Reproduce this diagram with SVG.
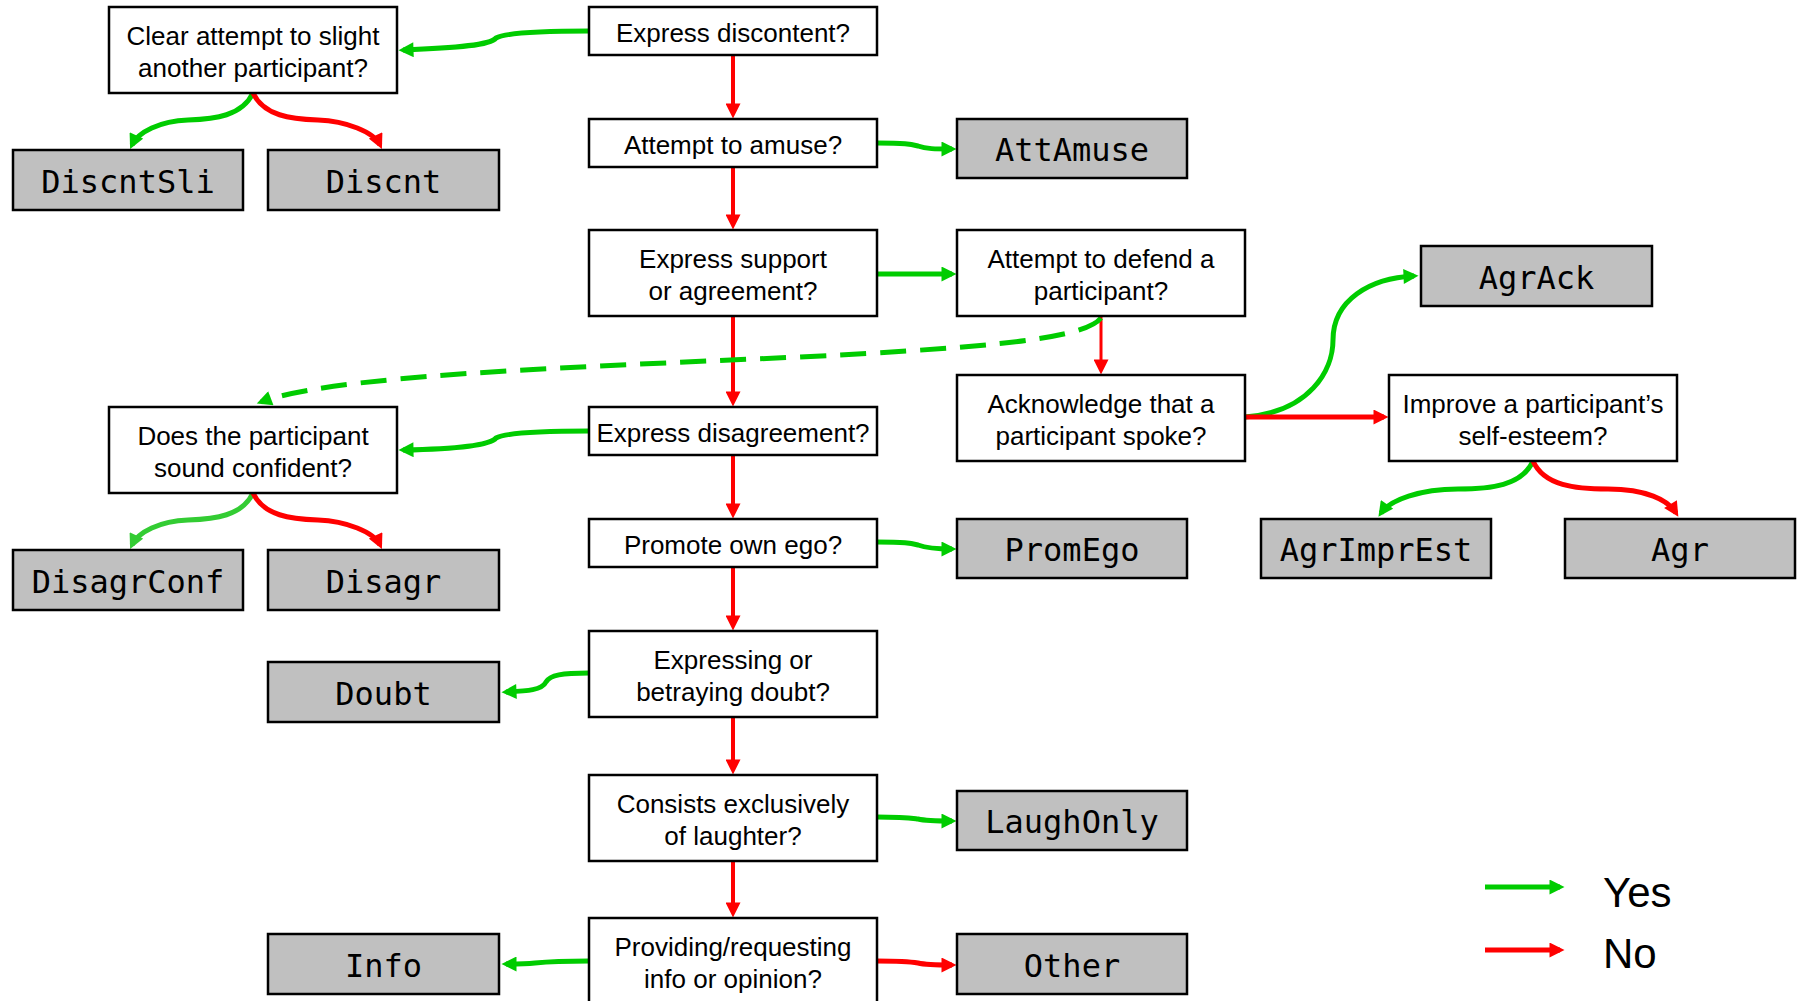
<svg xmlns="http://www.w3.org/2000/svg" width="1797" height="1001" viewBox="0 0 1797 1001">
<style>
.q{fill:#fff;stroke:#000;stroke-width:2.5}
.t{fill:#c0c0c0;stroke:#000;stroke-width:2.5}
.qt{font-family:"Liberation Sans",Arial,sans-serif;font-size:26px;fill:#000;text-anchor:middle}
.tt{font-family:"DejaVu Sans Mono","Liberation Mono",monospace;font-size:32px;fill:#000;text-anchor:middle}
.lg{font-family:"Liberation Sans",Arial,sans-serif;font-size:42px;fill:#000}
.y{fill:none;stroke:#00cc00;stroke-width:5;marker-end:url(#mg)}
.yl{fill:none;stroke:#33cc33;stroke-width:5;marker-end:url(#ml)}
.n{fill:none;stroke:#ff0000;stroke-width:4;marker-end:url(#mr)}
.nt{fill:none;stroke:#ff0000;stroke-width:5;marker-end:url(#mr)}
.d{stroke-dasharray:26 14}
</style>
<defs>
<marker id="mg" viewBox="0 0 10 10" refX="7" refY="5" markerWidth="16" markerHeight="15" markerUnits="userSpaceOnUse" orient="auto"><path d="M0,0 L10,5 L0,10 z" fill="#00cc00"/></marker>
<marker id="ml" viewBox="0 0 10 10" refX="7" refY="5" markerWidth="16" markerHeight="15" markerUnits="userSpaceOnUse" orient="auto"><path d="M0,0 L10,5 L0,10 z" fill="#33cc33"/></marker>
<marker id="mr" viewBox="0 0 10 10" refX="7" refY="5" markerWidth="16" markerHeight="15" markerUnits="userSpaceOnUse" orient="auto"><path d="M0,0 L10,5 L0,10 z" fill="#ff0000"/></marker>
</defs>
<rect width="1797" height="1001" fill="#fff"/>

<g id="connectors">
<path class="y" d="M589,31 C540,31 505,33 496,38 C490,45 460,48 403,50"/>
<path class="n" d="M733,55 V114"/>
<path class="y" d="M877,143 C905,143 910,144 918,146 C926,149 935,149 952,149"/>
<path class="n" d="M733,167 V225"/>
<path class="y" d="M877,274 H952"/>
<path class="n" d="M733,316 V402"/>
<path class="n" style="stroke-width:3" d="M1101,316 V370"/>
<path class="y d" d="M1101,318 C1085,338 1000,347 800,357 C550,368 330,376 261,402"/>
<path class="y" d="M1245,417 C1310,412 1333,370 1333,340 C1333,300 1370,278 1414,276"/>
<path class="nt" d="M1245,417 H1384"/>
<path class="y" d="M1533,461 C1522,486 1490,489 1458,489 C1420,489 1390,500 1381,513"/>
<path class="nt" d="M1533,461 C1544,486 1576,489 1608,489 C1646,489 1668,500 1676,513"/>
<path class="y" d="M253,93 C242,116 215,119 188,120 C160,121 138,132 132,145"/>
<path class="nt" d="M253,93 C264,116 291,119 318,120 C346,121 374,132 380,145"/>
<path class="y" d="M589,431 C540,431 505,433 496,438 C490,445 460,449 403,450"/>
<path class="n" d="M733,455 V514"/>
<path class="yl" d="M253,493 C242,516 215,519 188,520 C160,521 138,532 132,545"/>
<path class="nt" d="M253,493 C264,516 291,519 318,520 C346,521 374,532 380,545"/>
<path class="y" d="M877,542 C905,542 910,543 918,545 C926,548 935,549 952,549"/>
<path class="n" d="M733,566 V626"/>
<path class="y" d="M589,673 C562,673 550,675 546,682 C542,690 528,691 506,692"/>
<path class="n" d="M733,717 V770"/>
<path class="y" d="M877,817 C905,817 910,818 918,819 C926,821 935,821 952,821"/>
<path class="n" d="M733,861 V913"/>
<path class="y" d="M589,961 C560,961 545,962 535,963 C525,964 515,964 506,964"/>
<path class="nt" d="M877,961 C905,961 912,962 918,963 C926,965 935,965 952,965"/>
</g>

<g id="n-clear"><rect class="q" x="109" y="7" width="288" height="86"/><text class="qt" x="253" y="45">Clear attempt to slight</text><text class="qt" x="253" y="77">another participant?</text></g>
<g id="n-discontent"><rect class="q" x="589" y="7" width="288" height="48"/><text class="qt" x="733" y="42">Express discontent?</text></g>
<g id="n-amuse"><rect class="q" x="589" y="119" width="288" height="48"/><text class="qt" x="733" y="154">Attempt to amuse?</text></g>
<g id="n-attamuse"><rect class="t" x="957" y="119" width="230" height="59"/><text class="tt" x="1072" y="161">AttAmuse</text></g>
<g id="n-discntsli"><rect class="t" x="13" y="150" width="230" height="60"/><text class="tt" x="128" y="192.5">DiscntSli</text></g>
<g id="n-discnt"><rect class="t" x="268" y="150" width="231" height="60"/><text class="tt" x="383.5" y="192.5">Discnt</text></g>
<g id="n-support"><rect class="q" x="589" y="230" width="288" height="86"/><text class="qt" x="733" y="268">Express support</text><text class="qt" x="733" y="300">or agreement?</text></g>
<g id="n-defend"><rect class="q" x="957" y="230" width="288" height="86"/><text class="qt" x="1101" y="268">Attempt to defend a</text><text class="qt" x="1101" y="300">participant?</text></g>
<g id="n-agrack"><rect class="t" x="1421" y="246" width="231" height="60"/><text class="tt" x="1536.5" y="288.5">AgrAck</text></g>
<g id="n-ack"><rect class="q" x="957" y="375" width="288" height="86"/><text class="qt" x="1101" y="413">Acknowledge that a</text><text class="qt" x="1101" y="445">participant spoke?</text></g>
<g id="n-improve"><rect class="q" x="1389" y="375" width="288" height="86"/><text class="qt" x="1533" y="413">Improve a participant’s</text><text class="qt" x="1533" y="445">self-esteem?</text></g>
<g id="n-confident"><rect class="q" x="109" y="407" width="288" height="86"/><text class="qt" x="253" y="445">Does the participant</text><text class="qt" x="253" y="477">sound confident?</text></g>
<g id="n-disagreement"><rect class="q" x="589" y="407" width="288" height="48"/><text class="qt" x="733" y="442">Express disagreement?</text></g>
<g id="n-disagrconf"><rect class="t" x="13" y="550" width="230" height="60"/><text class="tt" x="128" y="592.5">DisagrConf</text></g>
<g id="n-disagr"><rect class="t" x="268" y="550" width="231" height="60"/><text class="tt" x="383.5" y="592.5">Disagr</text></g>
<g id="n-ego"><rect class="q" x="589" y="519" width="288" height="48"/><text class="qt" x="733" y="554">Promote own ego?</text></g>
<g id="n-promego"><rect class="t" x="957" y="519" width="230" height="59"/><text class="tt" x="1072" y="561">PromEgo</text></g>
<g id="n-agrimprest"><rect class="t" x="1261" y="519" width="230" height="59"/><text class="tt" x="1376" y="561">AgrImprEst</text></g>
<g id="n-agr"><rect class="t" x="1565" y="519" width="230" height="59"/><text class="tt" x="1680" y="561">Agr</text></g>
<g id="n-doubtq"><rect class="q" x="589" y="631" width="288" height="86"/><text class="qt" x="733" y="669">Expressing or</text><text class="qt" x="733" y="701">betraying doubt?</text></g>
<g id="n-doubt"><rect class="t" x="268" y="662" width="231" height="60"/><text class="tt" x="383.5" y="704.5">Doubt</text></g>
<g id="n-laughter"><rect class="q" x="589" y="775" width="288" height="86"/><text class="qt" x="733" y="813">Consists exclusively</text><text class="qt" x="733" y="845">of laughter?</text></g>
<g id="n-laughonly"><rect class="t" x="957" y="791" width="230" height="59"/><text class="tt" x="1072" y="833">LaughOnly</text></g>
<g id="n-providing"><rect class="q" x="589" y="918" width="288" height="86"/><text class="qt" x="733" y="956">Providing/requesting</text><text class="qt" x="733" y="988">info or opinion?</text></g>
<g id="n-info"><rect class="t" x="268" y="934" width="231" height="60"/><text class="tt" x="383.5" y="976.5">Info</text></g>
<g id="n-other"><rect class="t" x="957" y="934" width="230" height="60"/><text class="tt" x="1072" y="976.5">Other</text></g>

<g id="legend">
<path class="y" d="M1485,887 H1560"/>
<path class="nt" d="M1485,950 H1560"/>
<text class="lg" x="1603" y="907">Yes</text>
<text class="lg" x="1603" y="968">No</text>
</g>
</svg>
